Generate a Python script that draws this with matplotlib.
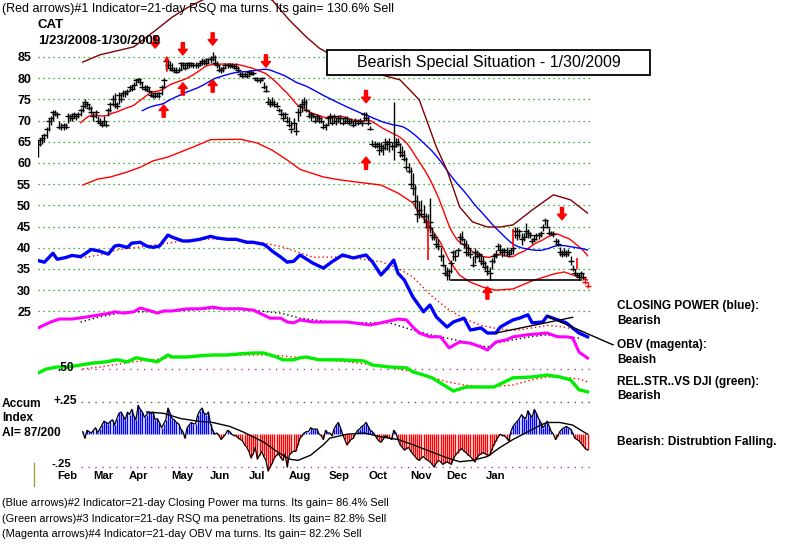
import numpy as np
import pandas as pd
import matplotlib
matplotlib.use("Agg")
import matplotlib.pyplot as plt
from matplotlib.patches import Rectangle
from matplotlib.lines import Line2D

# ---------------- data ----------------
# daily bars CAT 1/23/2008 - 1/30/2009 (trading-day index 0..258)
low = [61.4, 64.0, 64.5, 65.0, 66.0, 67.5, 69.0, 70.0, 71.0, 70.5,
       68.0, 67.8, 67.8, 68.0, 69.5, 70.0, 70.0, 70.5, 70.2, 70.5,
       71.0, 72.0, 73.0, 73.2, 72.5, 71.5, 70.0, 70.5, 69.5, 69.0,
       68.5, 69.0, 68.4, 71.0, 72.0, 73.5, 73.0, 72.8, 74.0, 74.5,
       75.5, 75.5, 76.0, 77.0, 77.0, 77.5, 78.5, 79.0, 78.5, 77.5,
       77.0, 77.0, 76.5, 75.5, 75.3, 75.3, 75.5, 75.3, 76.0, 78.0,
       82.0, 82.5, 82.0, 81.8, 81.5, 81.2, 81.5, 82.0, 82.2, 82.0,
       82.5, 82.4, 82.6, 82.4, 82.5, 82.4, 82.8, 83.0, 83.2, 83.0,
       83.5, 83.5, 84.0, 83.0, 82.5, 81.5, 81.2, 81.5, 82.4, 82.4,
       82.4, 82.4, 82.2, 82.2, 81.5, 80.5, 80.0, 80.3, 80.0, 80.8,
       80.8, 80.8, 79.5, 79.0, 78.9, 79.3, 77.5, 76.7, 74.0, 73.2,
       73.5, 73.2, 73.0, 72.0, 71.0, 70.0, 70.5, 69.4, 68.5, 67.0,
       68.0, 66.6, 70.0, 71.0, 72.0, 73.0, 72.0, 70.6, 70.0, 70.5,
       69.4, 70.0, 69.5, 69.5, 68.0, 67.8, 69.0, 69.5, 69.0, 69.5,
       69.0, 69.5, 69.3, 69.0, 69.5, 69.5, 69.0, 69.5, 68.5, 69.0,
       69.0, 69.5, 68.8, 70.0, 70.0, 69.0, 67.8, 64.0, 63.5, 63.5,
       62.0, 62.5, 62.0, 63.0, 63.0, 62.6, 63.0, 60.7, 63.8, 64.0,
       61.4, 61.4, 60.5, 58.3, 57.6, 54.3, 52.5, 49.5, 46.0, 47.0,
       47.3, 46.0, 44.7, 44.0, 43.5, 41.8, 41.8, 40.0, 39.5, 37.0,
       35.5, 33.5, 32.4, 32.4, 34.0, 37.1, 37.0, 38.0, 41.0, 41.5,
       40.0, 38.0, 38.0, 37.5, 35.5, 36.5, 37.5, 37.0, 36.0, 35.5,
       34.8, 33.5, 32.4, 35.0, 36.4, 37.5, 39.5, 38.5, 37.8, 38.0,
       38.0, 37.8, 38.5, 38.5, 42.3, 41.8, 42.3, 40.7, 41.5, 42.5,
       42.3, 42.3, 41.0, 41.5, 41.8, 42.0, 42.5, 44.0, 45.4, 44.7,
       43.0, 43.0, 42.5, 41.0, 40.5, 38.0, 37.8, 38.0, 37.8, 38.0,
       36.0, 34.5, 33.6, 33.0, 32.4, 33.0, 32.4, 31.5, 30.5]
high = [65.4, 66.0, 66.5, 67.0, 68.5, 70.6, 71.0, 72.5, 72.5, 72.0,
        70.0, 69.5, 69.5, 69.5, 71.8, 71.5, 71.8, 72.0, 71.5, 72.0,
        73.0, 74.4, 75.0, 74.5, 74.0, 73.5, 72.0, 72.5, 71.0, 70.5,
        70.0, 71.0, 70.0, 73.0, 74.5, 76.0, 76.5, 74.5, 76.7, 76.5,
        77.2, 77.0, 77.5, 78.4, 78.5, 79.0, 79.6, 80.1, 80.0, 79.0,
        78.4, 78.5, 78.0, 77.0, 76.5, 76.8, 76.5, 76.8, 78.5, 80.0,
        85.0, 84.3, 84.0, 83.5, 82.6, 82.6, 82.6, 83.8, 83.8, 83.5,
        83.8, 83.8, 83.8, 83.5, 83.8, 83.5, 84.0, 84.8, 84.5, 84.8,
        84.8, 85.2, 86.2, 85.5, 84.0, 83.0, 82.6, 82.8, 83.6, 83.5,
        83.6, 83.5, 83.3, 83.5, 82.8, 81.5, 81.5, 81.5, 81.2, 82.0,
        82.0, 81.8, 80.3, 80.3, 80.0, 80.3, 79.0, 78.4, 75.5, 75.0,
        75.5, 74.8, 74.5, 73.0, 72.8, 72.0, 72.0, 71.0, 70.8, 70.0,
        70.5, 69.5, 73.0, 74.0, 75.0, 75.5, 75.0, 72.5, 72.0, 71.8,
        71.0, 71.5, 71.0, 70.8, 70.0, 69.5, 71.0, 71.8, 71.0, 71.5,
        70.5, 71.3, 71.3, 70.5, 71.0, 71.0, 70.6, 70.6, 70.0, 70.5,
        70.3, 70.6, 70.0, 72.0, 72.0, 71.0, 68.8, 65.4, 65.2, 65.0,
        65.0, 65.0, 64.5, 65.8, 65.5, 65.8, 65.0, 74.4, 66.0, 66.0,
        64.7, 64.0, 63.0, 61.4, 60.0, 59.0, 57.6, 55.0, 52.5, 51.0,
        51.3, 50.0, 48.2, 48.0, 51.7, 45.0, 43.5, 42.3, 42.0, 40.2,
        38.5, 36.0, 35.5, 35.0, 37.1, 39.5, 39.5, 40.0, 43.5, 44.0,
        42.0, 41.8, 41.0, 40.0, 38.0, 40.0, 39.5, 39.0, 38.5, 38.0,
        37.0, 36.0, 35.5, 37.5, 38.8, 39.5, 41.1, 41.0, 40.0, 40.0,
        40.2, 39.5, 40.0, 40.5, 45.0, 45.0, 44.5, 43.5, 43.5, 45.8,
        44.5, 43.7, 42.3, 43.0, 43.5, 43.5, 44.0, 45.5, 47.0, 46.5,
        44.7, 44.0, 44.0, 42.3, 42.0, 40.2, 39.5, 40.0, 39.5, 39.8,
        38.0, 36.0, 35.0, 34.0, 34.0, 34.5, 34.0, 33.0, 32.0]
close = [64.5, 65.5, 66.0, 66.5, 68.0, 70.0, 70.5, 72.0, 71.5, 71.5,
         68.5, 68.5, 69.0, 68.5, 71.0, 71.0, 70.5, 71.5, 71.0, 71.5,
         72.5, 73.5, 74.5, 74.0, 73.0, 72.0, 71.0, 72.0, 70.0, 69.5,
         69.0, 70.0, 69.0, 72.5, 74.0, 75.0, 74.0, 73.5, 76.0, 75.0,
         76.5, 76.5, 77.0, 78.0, 77.5, 78.5, 79.5, 79.8, 79.0, 78.0,
         77.5, 78.0, 77.0, 76.0, 75.8, 76.5, 75.8, 76.5, 78.0, 79.5,
         84.0, 83.0, 82.5, 82.0, 82.0, 81.5, 82.0, 83.5, 83.0, 82.5,
         83.5, 83.0, 83.5, 83.0, 83.2, 83.0, 83.5, 84.0, 84.0, 83.5,
         84.5, 84.5, 85.0, 83.5, 83.0, 82.0, 82.0, 82.5, 83.0, 83.0,
         83.0, 82.8, 82.8, 82.5, 82.0, 81.0, 80.5, 81.0, 80.5, 81.5,
         81.0, 81.2, 80.0, 79.5, 79.5, 80.0, 78.0, 77.0, 74.5, 73.8,
         74.5, 74.0, 73.5, 72.5, 71.5, 70.5, 71.5, 70.0, 69.0, 68.0,
         69.5, 67.5, 72.0, 73.5, 74.0, 74.5, 72.5, 71.0, 71.5, 71.0,
         70.0, 71.0, 70.5, 70.0, 68.5, 69.0, 70.5, 71.0, 69.5, 71.0,
         70.0, 70.5, 70.5, 69.5, 70.5, 70.0, 69.5, 70.0, 69.0, 70.0,
         69.5, 70.0, 69.5, 71.5, 70.5, 69.5, 68.0, 64.5, 64.0, 64.5,
         63.0, 64.0, 63.5, 65.0, 64.5, 65.0, 64.0, 64.0, 65.0, 64.5,
         62.5, 62.0, 61.0, 59.0, 58.0, 55.0, 54.0, 51.0, 48.0, 49.0,
         48.0, 47.5, 46.0, 45.0, 46.0, 43.0, 42.5, 41.0, 40.5, 38.0,
         36.0, 34.0, 33.5, 34.5, 36.5, 39.0, 38.0, 39.5, 42.5, 42.0,
         41.0, 39.0, 40.0, 38.5, 36.0, 39.0, 38.0, 38.5, 37.0, 36.5,
         35.5, 34.5, 34.0, 37.0, 38.0, 38.5, 40.5, 39.5, 39.0, 39.5,
         39.0, 38.5, 39.5, 40.0, 44.0, 43.0, 44.0, 42.0, 42.5, 44.0,
         43.5, 43.0, 41.5, 42.0, 43.0, 43.0, 43.5, 45.0, 46.5, 45.0,
         43.5, 43.5, 43.2, 41.5, 41.0, 39.0, 38.5, 39.0, 38.5, 39.0,
         37.0, 35.0, 34.0, 33.5, 33.0, 34.0, 33.0, 32.0, 31.0]

price_levels = [85, 80, 75, 70, 65, 60, 55, 50, 45, 40, 35, 30, 25]
month_names = ["Feb", "Mar", "Apr", "May", "Jun", "Jul", "Aug", "Sep", "Oct", "Nov", "Dec", "Jan"]
month_label_days = [13.6, 30.5, 47.4, 67.6, 85.5, 102.8, 123.0, 141.3, 159.6, 179.8, 196.7, 215.0]

upper_band_days = [21, 29, 45, 57, 63, 70, 79, 95, 110, 118, 126, 132, 142, 151, 161, 170,
                   179, 187, 192, 198, 204, 211, 217, 223, 232, 242, 250, 258]
upper_band = [83.8, 85.5, 87.4, 92.0, 94.4, 96.6, 98.9, 100.8, 98.4, 93.7, 89.7, 87.1, 84.3, 82.4, 80.8, 79.6,
              74.9, 63.8, 58.3, 49.6, 46.1, 44.9, 44.9, 45.4, 48.9, 52.5, 51.3, 48.2]
lower_band_days = [21, 28, 34, 42, 48, 54, 61, 67, 73, 81, 95, 103, 110, 117, 123, 134, 142, 153,
                   161, 169, 176, 179, 184, 189, 193, 198, 203, 209, 215, 223, 232, 242, 247, 254, 258]
lower_band = [54.8, 56.2, 56.7, 57.9, 59.0, 60.5, 61.4, 62.6, 63.8, 65.5, 65.6, 64.7, 63.0, 60.7, 58.5, 56.7, 56.0, 55.3,
              54.8, 52.9, 50.6, 48.2, 45.0, 41.2, 37.1, 33.5, 31.9, 30.7, 30.0, 30.3, 32.2, 33.8, 34.3, 33.1, 32.4]

# Closing Power (blue) and its ma, plotted on the price scale
cp_days = [0, 3, 7, 9, 13, 16, 20, 23, 25, 29, 33, 36, 38, 42, 44, 48, 51, 54, 57, 61, 63, 68, 71, 76,
           81, 84, 89, 93, 98, 101, 106, 108, 110, 114, 117, 118, 120, 123, 129, 134, 138, 143, 148,
           154, 157, 161, 164, 167, 169, 172, 176, 181, 184, 187, 192, 195, 200, 203, 208, 211, 215,
           217, 223, 226, 230, 232, 237, 239, 244, 248, 251, 254, 258]
cp_vals = [37.0, 36.6, 38.7, 37.3, 37.7, 38.2, 37.9, 38.9, 39.6, 39.2, 38.5, 40.4, 40.6, 40.1, 41.1, 41.3,
           40.4, 40.1, 40.4, 43.0, 42.5, 41.6, 41.6, 42.0, 42.7, 42.3, 42.0, 42.0, 41.3, 41.3, 40.8, 40.1,
           39.2, 37.8, 36.6, 36.7, 36.8, 38.3, 36.4, 35.2, 36.7, 38.3, 37.6, 38.3, 36.7, 33.6, 35.2, 37.1,
           34.0, 32.4, 28.4, 24.9, 26.5, 23.7, 21.3, 22.5, 23.4, 20.6, 21.1, 19.9, 19.9, 21.3, 23.0, 23.4,
           24.2, 22.3, 22.5, 23.9, 23.0, 22.3, 21.1, 19.9, 19.0]
cp_ma_days = [20, 29, 37, 48, 61, 70, 82, 95, 106, 115, 123, 129, 145, 161, 169, 176, 184, 192,
              200, 208, 215, 223, 231, 239, 246, 254, 258]
cp_ma_vals = [37.6, 38.3, 39.5, 40.2, 41.1, 41.8, 42.1, 41.8, 41.1, 40.2, 38.8, 37.8, 37.8, 36.7, 35.2, 33.1,
              29.0, 25.7, 23.3, 21.7, 21.0, 20.5, 21.0, 21.7, 21.4, 20.5, 19.8]

# OBV (magenta) and its ma, plotted on the price scale
obv_days = [0, 6, 10, 16, 23, 29, 34, 36, 40, 45, 48, 53, 56, 59, 63, 70, 76, 82, 87, 95, 101, 104,
            109, 114, 117, 120, 123, 129, 137, 145, 156, 161, 169, 173, 176, 179, 184, 189, 193, 198,
            203, 208, 211, 215, 220, 223, 230, 239, 244, 248, 251, 254, 258]
obv_vals = [21.1, 22.5, 23.2, 23.2, 23.7, 24.2, 24.6, 24.9, 24.6, 24.9, 25.8, 25.1, 24.6, 25.1, 25.1, 25.6,
            25.6, 26.0, 25.6, 25.6, 25.3, 24.6, 23.4, 23.4, 22.5, 22.3, 23.0, 22.5, 22.5, 22.5, 21.8, 22.3,
            23.2, 23.0, 21.3, 19.9, 19.0, 19.0, 16.4, 17.8, 17.5, 16.6, 15.9, 17.8, 18.3, 19.0, 19.5, 19.9,
            19.0, 19.0, 18.8, 15.4, 14.0]
obv_ma_days = [20, 29, 38, 48, 57, 70, 82, 95, 104, 114, 123, 137, 153, 165, 176, 184, 192, 200,
               211, 215, 223, 231, 239, 246, 254]
obv_ma_vals = [22.5, 23.7, 24.6, 24.9, 24.9, 25.3, 25.6, 25.8, 25.1, 24.6, 23.4, 22.5, 22.3, 22.3, 20.6,
               19.5, 18.7, 17.8, 16.6, 17.5, 18.3, 19.0, 19.5, 19.0, 18.7]

# Relative strength vs DJI (green) and its ma
rs_days = [0, 4, 9, 14, 20, 26, 32, 37, 42, 46, 51, 56, 61, 63, 70, 76, 82, 89, 95, 101, 106, 109,
           112, 115, 120, 123, 126, 132, 142, 153, 157, 165, 173, 176, 181, 185, 192, 195, 201, 208,
           214, 218, 223, 232, 239, 245, 250, 254, 258]
rs_vals = [0.490, 0.500, 0.505, 0.505, 0.510, 0.515, 0.518, 0.523, 0.518, 0.528, 0.523, 0.518, 0.535,
           0.530, 0.530, 0.533, 0.535, 0.535, 0.538, 0.540, 0.540, 0.535, 0.530, 0.523, 0.523, 0.528,
           0.530, 0.523, 0.523, 0.520, 0.510, 0.505, 0.503, 0.493, 0.485, 0.478, 0.455, 0.445, 0.455,
           0.455, 0.455, 0.465, 0.478, 0.480, 0.485, 0.480, 0.473, 0.448, 0.443]
rs_ma_days = [21, 29, 45, 54, 61, 76, 95, 108, 114, 129, 145, 161, 176, 184, 192, 200, 211, 223,
              232, 239, 246, 254, 258]
rs_ma_vals = [0.500, 0.505, 0.518, 0.523, 0.528, 0.533, 0.535, 0.535, 0.533, 0.525, 0.518, 0.508, 0.493,
              0.480, 0.468, 0.460, 0.455, 0.460, 0.473, 0.480, 0.480, 0.475, 0.468]

# Accumulation Index, daily from day 21
ai_start = 21
ai_vals = [0.02, -0.03, 0.03, 0.02, 0.01, 0.03, 0.05, 0.01, 0.04, 0.07,
           0.10, 0.09, 0.08, 0.10, 0.11, 0.07, 0.12, 0.16, 0.17, 0.14,
           0.11, 0.17, 0.15, 0.19, 0.14, 0.11, 0.22, 0.19, 0.17, 0.13,
           0.15, 0.17, 0.16, 0.17, 0.11, 0.12, 0.09, 0.05, 0.08, 0.11,
           0.20, 0.16, 0.12, 0.11, 0.09, 0.08, 0.04, 0.02, -0.03, 0.05,
           0.07, 0.09, 0.08, 0.08, 0.15, 0.18, 0.20, 0.16, 0.15, 0.17,
           0.08, 0.03, 0.00, 0.01, -0.01, -0.04, -0.02, 0.00, 0.03, 0.02,
           0.00, -0.01, -0.01, -0.03, -0.04, -0.05, -0.08, -0.10, -0.13, -0.18,
           -0.15, -0.10, -0.19, -0.16, -0.13, -0.17, -0.20, -0.28, -0.25, -0.22,
           -0.18, -0.16, -0.15, -0.18, -0.20, -0.15, -0.25, -0.16, -0.14, -0.13,
           -0.13, -0.08, -0.03, -0.01, 0.01, 0.02, 0.02, 0.05, 0.04, 0.04,
           0.04, 0.00, -0.01, -0.04, 0.03, 0.01, 0.01, -0.01, 0.04, 0.07,
           0.09, 0.05, 0.00, -0.04, -0.08, -0.06, -0.04, -0.03, 0.00, 0.03,
           0.04, 0.06, 0.07, 0.09, 0.06, 0.03, 0.02, 0.00, -0.03, -0.05,
           -0.06, -0.04, -0.01, -0.02, -0.03, -0.04, 0.03, 0.01, -0.04, -0.08,
           -0.10, -0.12, -0.11, -0.10, -0.13, -0.15, -0.17, -0.19, -0.20, -0.18,
           -0.17, -0.19, -0.20, -0.21, -0.23, -0.25, -0.22, -0.20, -0.21, -0.23,
           -0.22, -0.21, -0.22, -0.23, -0.19, -0.16, -0.14, -0.12, -0.11, -0.13,
           -0.14, -0.16, -0.17, -0.19, -0.21, -0.18, -0.16, -0.15, -0.14, -0.15,
           -0.16, -0.16, -0.12, -0.08, -0.05, -0.02, 0.00, -0.01, -0.01, -0.03,
           -0.05, 0.02, 0.06, 0.08, 0.10, 0.12, 0.15, 0.13, 0.12, 0.18,
           0.15, 0.13, 0.19, 0.16, 0.12, 0.09, 0.05, 0.07, 0.10, 0.06,
           0.02, 0.00, -0.04, -0.01, 0.02, 0.04, 0.05, 0.06, 0.05, 0.04,
           0.01, -0.03, -0.04, -0.05, -0.07, -0.09, -0.11, -0.12]
ai_ma_days = [51, 59, 67, 75, 82, 90, 96, 106, 112, 118, 122, 128, 134, 137, 145, 153, 161, 169,
              176, 184, 192, 198, 204, 211, 217, 223, 230, 236, 239, 245, 251, 258]
ai_ma_vals = [0.17, 0.16, 0.12, 0.10, 0.09, 0.06, 0.02, -0.06, -0.13, -0.19, -0.20, -0.16, -0.08, -0.03,
              0.00, 0.01, -0.02, -0.04, -0.08, -0.13, -0.18, -0.21, -0.20, -0.17, -0.10, -0.04, 0.02,
              0.07, 0.09, 0.09, 0.07, 0.00]

# signals
down_arrow_days = [55, 68, 82, 107, 154, 246]
down_arrow_tips = [87.1, 85.5, 87.8, 82.6, 74.2, 46.6]
up_arrow_days = [59, 68, 82, 154, 211]
up_arrow_tips = [73.7, 78.9, 79.6, 61.4, 30.8]
signal_line_days = [183, 223, 253]
signal_line_lo = [37.1, 40.2, 35.0]
signal_line_hi = [46.6, 44.5, 37.6]
thin_up_day = 60.5
thin_up_lo, thin_up_hi = 81.0, 86.0

support_days = [194, 255]
support_vals = [32.4, 32.4]
cp_trend_days = [215, 251]
cp_trend_vals = [19.9, 23.6]
pointer_days = [239, 270]
pointer_vals = [23.9, 17.1]

# ---------------- figure ----------------
W, H = 800, 544
PX_PER_DAY = 2.13
fig = plt.figure(figsize=(W / 100, H / 100), dpi=100)
fig.patch.set_facecolor("white")
pos = [38 / W, 0, (W - 38) / W, 1]
xmax = (W - 38) / PX_PER_DAY

ax = fig.add_axes(pos)
ax.set_xlim(0, xmax)
ax.set_ylim(-29.86, 98.44)
for s in ax.spines.values():
    s.set_visible(False)
ax.set_xticks([])
ax.set_yticks(price_levels)
ax.set_yticklabels([str(v) for v in price_levels], fontsize=9, fontweight="bold",
                   family="Liberation Sans")
ax.tick_params(axis="y", length=0, pad=5)

gridc = "#009a00"
dots = (0, (1, 3))
ax.hlines(price_levels, 0, 260, colors=gridc, linestyles=dots, lw=0.9)

n = len(close)
x = np.arange(n)
bar_colors = ["black"] * n
for i in range(n - 2, n):
    bar_colors[i] = "red"
ax.vlines(x, low, high, colors=bar_colors, lw=1.0, zorder=3)
for i in range(n):
    ax.plot([x[i]], [close[i]], ls="none", marker="_", ms=4, mew=1.0, color=bar_colors[i], zorder=3)

s = pd.Series(close)
ma21 = s.rolling(21).mean()
ma50 = s.rolling(50).mean()
ax.plot(x, ma21, color="red", lw=1.0, zorder=2)
ax.plot(x, ma50, color="blue", lw=1.0, zorder=2)
ax.plot(upper_band_days, upper_band, color="#800000", lw=1.0, zorder=2)
ax.plot(lower_band_days, lower_band, color="red", lw=1.0, zorder=2)

ax.plot(cp_ma_days, cp_ma_vals, color="red", ls=(0, (1, 2)), lw=1.0, zorder=2)
ax.plot(cp_days, cp_vals, color="blue", lw=2.4, zorder=3)
ax.plot(obv_ma_days, obv_ma_vals, color="black", ls=(0, (1, 2)), lw=1.0, zorder=2)
ax.plot(obv_days, obv_vals, color="#ff00ff", lw=2.2, zorder=3)

ax.plot(support_days, support_vals, color="black", lw=1.2, zorder=3)
ax.plot(cp_trend_days, cp_trend_vals, color="black", lw=1.0, zorder=4)
ax.plot(pointer_days, pointer_vals, color="black", lw=1.0, zorder=4)

AL = 2.9
for d, t in zip(down_arrow_days, down_arrow_tips):
    ax.annotate("", xy=(d, t), xytext=(d, t + AL),
                arrowprops=dict(facecolor="red", edgecolor="red", width=2.2, headwidth=6.5,
                                headlength=4, shrink=0), zorder=6)
for d, t in zip(up_arrow_days, up_arrow_tips):
    ax.annotate("", xy=(d, t), xytext=(d, t - AL),
                arrowprops=dict(facecolor="red", edgecolor="red", width=2.2, headwidth=6.5,
                                headlength=4, shrink=0), zorder=6)
ax.vlines(signal_line_days, signal_line_lo, signal_line_hi, colors="red", lw=1.2, zorder=4)
ax.annotate("", xy=(thin_up_day, thin_up_hi), xytext=(thin_up_day, thin_up_lo),
            arrowprops=dict(arrowstyle="-|>", color="red", lw=1.2, mutation_scale=6), zorder=4)

# relative strength panel
ax_rs = fig.add_axes(pos, sharex=ax)
ax_rs.set_ylim(0.0625, 1.4225)
ax_rs.axis("off")
ax_rs.patch.set_alpha(0)
ax_rs.hlines(0.5, 20, 260, colors="#a040a0", linestyles=(0, (1, 4)), lw=1.0)
ax_rs.plot(rs_ma_days, rs_ma_vals, color="red", ls=(0, (1, 2)), lw=1.0)
ax_rs.plot(rs_days, rs_vals, color="#00ee00", lw=2.4)

# accumulation index panel
ax_ai = fig.add_axes(pos, sharex=ax)
ax_ai.set_ylim(-0.839, 3.32)
ax_ai.axis("off")
ax_ai.patch.set_alpha(0)
ai_x = np.arange(ai_start, ai_start + len(ai_vals))
ai_c = ["#0000ff" if v > 0 else "#ff0000" for v in ai_vals]
ax_ai.hlines([0.25], 20, 260, colors="#555555", linestyles=(0, (1, 4)), lw=1.0)
ax_ai.hlines([-0.25], 20, 260, colors="#a040a0", linestyles=(0, (1, 4)), lw=1.0)
ax_ai.vlines(ai_x, 0, ai_vals, colors=ai_c, lw=1.0)
ax_ai.plot(ai_x, ai_vals, color="black", lw=0.9)
ax_ai.plot(ai_ma_days, ai_ma_vals, color="black", lw=1.0)


# ---------------- texts ----------------
def fx(px):
    return px / W


def fy(py):
    return 1 - py / H


F = "Liberation Sans"

fig.text(fx(2), fy(9), "(Red arrows)#1 Indicator=21-day RSQ ma turns. Its gain= 130.6% Sell",
         fontsize=9.0, family=F, va="center", ha="left")
fig.text(fx(38), fy(25), "CAT", fontsize=9.5, family=F, fontweight="bold", va="center")
fig.text(fx(38), fy(41), "1/23/2008-1/30/2009", fontsize=9.5, family=F, fontweight="bold", va="center")

fig.patches.append(Rectangle((fx(327), fy(75)), 323 / W, 25 / H, transform=fig.transFigure,
                             facecolor="white", edgecolor="black", lw=1.3, zorder=5))
fig.text(fx(488.5), fy(62.5), "Bearish Special Situation - 1/30/2009", fontsize=11.5, family=F,
         ha="center", va="center", zorder=6)

for name, d in zip(month_names, month_label_days):
    fig.text(fx(38 + d * PX_PER_DAY), fy(476), name, fontsize=8.2, family=F, fontweight="bold",
             ha="center", va="center")

bold = dict(fontsize=8.6, family=F, fontweight="bold", va="center", ha="left")
fig.text(fx(617), fy(306), "CLOSING POWER (blue):", **bold)
fig.text(fx(617), fy(321), "Bearish", **bold)
fig.text(fx(617), fy(345), "OBV (magenta):", **bold)
fig.text(fx(617), fy(360), "Beaish", **bold)
fig.text(fx(617), fy(382), "REL.STR..VS DJI (green):", **bold)
fig.text(fx(617), fy(396), "Bearish", **bold)
fig.text(fx(617), fy(442), "Bearish: Distrubtion Falling.", **bold)

fig.text(fx(2), fy(404), "Accum", **bold)
fig.text(fx(2), fy(418), "Index", **bold)
fig.text(fx(2), fy(433), "AI= 87/200", **bold)
fig.text(fx(53), fy(401), "+.25", **bold)
fig.text(fx(52), fy(464), "-.25", fontsize=8.2, family=F, fontweight="bold", va="center", ha="left")
fig.text(fx(57), fy(368), ".50", **bold)

fig.add_artist(Line2D([fx(34), fx(34)], [fy(463), fy(486)], color="#a0a040", lw=1.0))

bot = dict(fontsize=7.9, family=F, va="center", ha="left")
fig.text(fx(2), fy(503), "(Blue arrows)#2 Indicator=21-day Closing Power ma turns. Its gain= 86.4% Sell", **bot)
fig.text(fx(2), fy(519), "(Green arrows)#3 Indicator=21-day RSQ ma penetrations. Its gain= 82.8% Sell", **bot)
fig.text(fx(2), fy(534), "(Magenta arrows)#4 Indicator=21-day OBV ma turns. Its gain= 82.2% Sell", **bot)

fig.savefig("out.png", dpi=100, facecolor="white")
